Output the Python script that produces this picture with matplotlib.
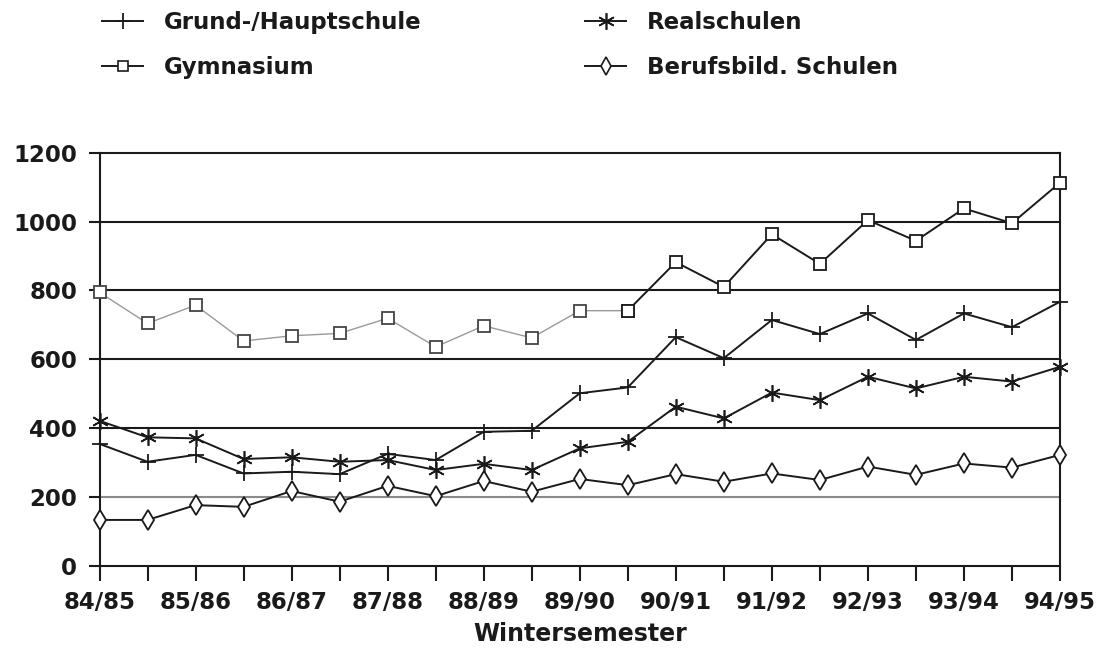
import matplotlib
matplotlib.use("Agg")
import matplotlib.pyplot as plt
from matplotlib.lines import Line2D

# ---- data -------------------------------------------------------------
semesters = ["84/85", "", "85/86", "", "86/87", "", "87/88", "", "88/89", "",
             "89/90", "", "90/91", "", "91/92", "", "92/93", "", "93/94", "", "94/95"]
grund_haupt = [354, 302, 322, 268, 273, 266, 325, 307, 389, 392,
               501, 518, 664, 603, 714, 673, 733, 656, 733, 693, 767]
realschulen = [421, 373, 370, 310, 315, 302, 307, 278, 296, 278,
               341, 360, 462, 428, 503, 481, 549, 515, 549, 535, 578]
gymnasium = [794, 704, 757, 653, 668, 675, 719, 636, 697, 662,
             741, 741, 882, 810, 963, 877, 1004, 944, 1038, 995, 1113]
berufsbild = [133, 133, 176, 171, 217, 186, 232, 202, 246, 215,
              252, 234, 266, 244, 268, 249, 288, 264, 297, 285, 322]
y_ticks = [0, 200, 400, 600, 800, 1000, 1200]
labels = ["Grund-/Hauptschule", "Gymnasium", "Realschulen", "Berufsbild. Schulen"]
x_label = "Wintersemester"

plt.rcParams['font.family'] = ['DejaVu Sans']
plt.rcParams['font.weight'] = 'bold'
FS = 16.5

W, H = 1102, 659
fig = plt.figure(figsize=(W / 100, H / 100), dpi=100)
fig.subplots_adjust(left=99.5 / W, right=1060 / W, bottom=1 - 565.7 / H, top=1 - 152.7 / H)
ax = fig.add_subplot(111)

x = list(range(len(semesters)))
LW = 1.4
ink = '#1a1a1a'

# gridlines
for yt in y_ticks[1:-1]:
    ax.axhline(yt, color=ink if yt != 200 else '#8a8a8a', lw=1.5, zorder=1)

mk_asterisk = (6, 2, 0)

# Gymnasium: light first part, dark second
split = 11
ax.plot(x[:split + 1], gymnasium[:split + 1], color='#9a9a9a', lw=1.0,
        marker='s', ms=8, mfc='white', mec='#444444', mew=1.3, zorder=3, clip_on=False)
ax.plot(x[split:], gymnasium[split:], color=ink, lw=LW,
        marker='s', ms=8, mfc='white', mec=ink, mew=1.3, zorder=3, clip_on=False)
ax.plot(x, grund_haupt, color=ink, lw=LW, marker='+', ms=12, mew=1.3, zorder=3, clip_on=False)
ax.plot(x, realschulen, color=ink, lw=LW, marker=mk_asterisk, ms=12, mew=1.2, zorder=3,
        clip_on=False)
ax.plot(x, berufsbild, color=ink, lw=LW, marker='d', ms=10, mfc='white', mec=ink,
        mew=1.3, zorder=3, clip_on=False)

ax.set_xlim(0, len(semesters) - 1)
ax.set_ylim(0, 1200)
for s in ax.spines.values():
    s.set_color(ink)
    s.set_linewidth(1.5)

ax.set_yticks(y_ticks)
ax.set_yticklabels([str(v) for v in y_ticks], fontsize=FS, fontweight='bold')
ax.set_xticks(x)
ax.set_xticklabels(semesters, fontsize=FS, fontweight='bold')
ax.tick_params(axis='y', direction='out', length=8, width=1.5, pad=8, colors=ink)
ax.tick_params(axis='x', direction='out', length=11, width=1.5, pad=7, colors=ink)
ax.set_xlabel(x_label, fontsize=FS + 0.5, labelpad=6, color=ink, fontweight='bold')

# legend (two columns)
h_gh = Line2D([], [], color=ink, lw=LW, marker='+', ms=12, mew=1.3)
h_gy = Line2D([], [], color=ink, lw=LW, marker='s', ms=7, mfc='white', mec=ink, mew=1.2)
h_re = Line2D([], [], color=ink, lw=LW, marker=mk_asterisk, ms=12, mew=1.2)
h_be = Line2D([], [], color=ink, lw=LW, marker='d', ms=9, mfc='white', mec=ink, mew=1.2)

common = dict(loc='upper left', frameon=False, prop={'size': FS, 'weight': 'bold'},
              handlelength=1.8, handletextpad=0.9, labelspacing=0.95, borderpad=0,
              borderaxespad=0, labelcolor=ink)
fig.legend([h_gh, h_gy], labels[:2], bbox_to_anchor=(102 / W, 1 - 11 / H), **common)
fig.legend([h_re, h_be], labels[2:], bbox_to_anchor=(585 / W, 1 - 11 / H), **common)

fig.savefig("out.png", dpi=100, facecolor='white')
